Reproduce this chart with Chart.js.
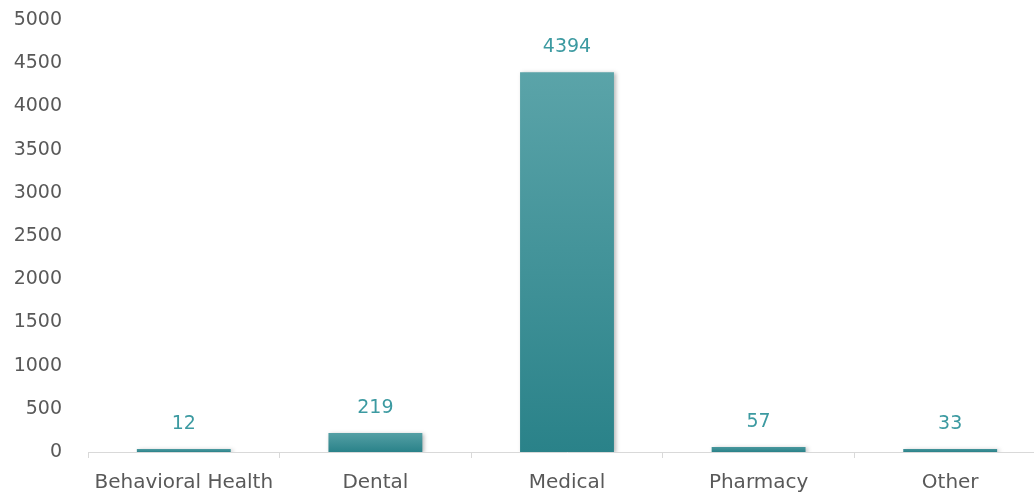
<!DOCTYPE html>
<html>
<head>
<meta charset="utf-8">
<script src="https://cdn.jsdelivr.net/npm/chart.js@4.4.1/dist/chart.umd.min.js"></script>
<style>
  html, body { margin: 0; padding: 0; background: #fff; overflow: hidden; }
  #wrap { width: 1046px; height: 496px; }
</style>
</head>
<body>
<div id="wrap"><canvas id="myChart" width="1046" height="496"></canvas></div>
<script>
(() => {
  'use strict'

  const categories = ['Behavioral Health', 'Dental', 'Medical', 'Pharmacy', 'Other']
  const claims = [12, 219, 4394, 57, 33]
  const yMax = 5000
  const yStep = 500

  const fontFamily = '"DejaVu Sans", sans-serif'
  const textGray = '#595959'
  const labelTeal = '#3c9aa1'

  // gradient fill, light at the top of the bar, dark at the base
  function barFill (context) {
    const chart = context.chart
    const y = chart.scales && chart.scales.y
    if (!y || context.type !== 'data') return '#3a9399'
    const top = y.getPixelForValue(claims[context.dataIndex]) - 3
    const bottom = y.getPixelForValue(0)
    if (!isFinite(top) || !isFinite(bottom) || bottom - top < 1) return '#3a9399'
    const g = chart.ctx.createLinearGradient(0, top, 0, bottom)
    g.addColorStop(0, '#5ba4a9')
    g.addColorStop(1, '#2a8289')
    return g
  }

  const barShadow = {
    id: 'barShadow',
    beforeDatasetDraw (chart) {
      const ctx = chart.ctx
      ctx.save()
      ctx.shadowColor = 'rgba(0,0,0,0.28)'
      ctx.shadowBlur = 4
      ctx.shadowOffsetX = 2
      ctx.shadowOffsetY = 1
    },
    afterDatasetDraw (chart) {
      chart.ctx.restore()
    }
  }

  const valueLabels = {
    id: 'valueLabels',
    afterDatasetsDraw (chart) {
      const ctx = chart.ctx
      const meta = chart.getDatasetMeta(0)
      ctx.save()
      ctx.font = '19px ' + fontFamily
      ctx.fillStyle = labelTeal
      ctx.textAlign = 'center'
      ctx.textBaseline = 'alphabetic'
      meta.data.forEach((bar, i) => {
        ctx.fillText(String(claims[i]), bar.x, bar.y - 20)
      })
      ctx.restore()
    }
  }

  const ctx2 = document.getElementById('myChart')

  // eslint-disable-next-line no-unused-vars
  const myChart = new Chart(ctx2, {
    type: 'bar',
    data: {
      labels: categories,
      datasets: [{
        data: claims,
        backgroundColor: barFill,
        borderWidth: 0,
        minBarLength: 3,
        categoryPercentage: 1,
        barPercentage: 0.49
      }]
    },
    options: {
      responsive: false,
      animation: false,
      layout: { padding: { top: 20, right: 0, left: 0, bottom: 0 } },
      plugins: {
        legend: { display: false },
        tooltip: { enabled: false }
      },
      scales: {
        x: {
          grid: {
            display: true,
            drawOnChartArea: false,
            drawTicks: true,
            tickLength: 6,
            color: '#d9d9d9',
            offset: true
          },
          border: { display: true, color: '#d9d9d9', width: 1 },
          ticks: {
            color: textGray,
            font: { family: fontFamily, size: 20 },
            padding: 13,
            maxRotation: 0,
            autoSkip: false
          },
          afterFit (scale) { scale.height = 44 }
        },
        y: {
          min: 0,
          max: yMax,
          grid: { display: false, drawTicks: false },
          border: { display: false },
          ticks: {
            stepSize: yStep,
            color: textGray,
            font: { family: fontFamily, size: 19 },
            padding: 26,
            callback: (v) => String(v)
          },
          afterFit (scale) {
            scale.width = 88
            scale.paddingTop = 0
            scale.paddingBottom = 0
          }
        }
      }
    },
    plugins: [barShadow, valueLabels]
  })
})()
</script>
</body>
</html>
